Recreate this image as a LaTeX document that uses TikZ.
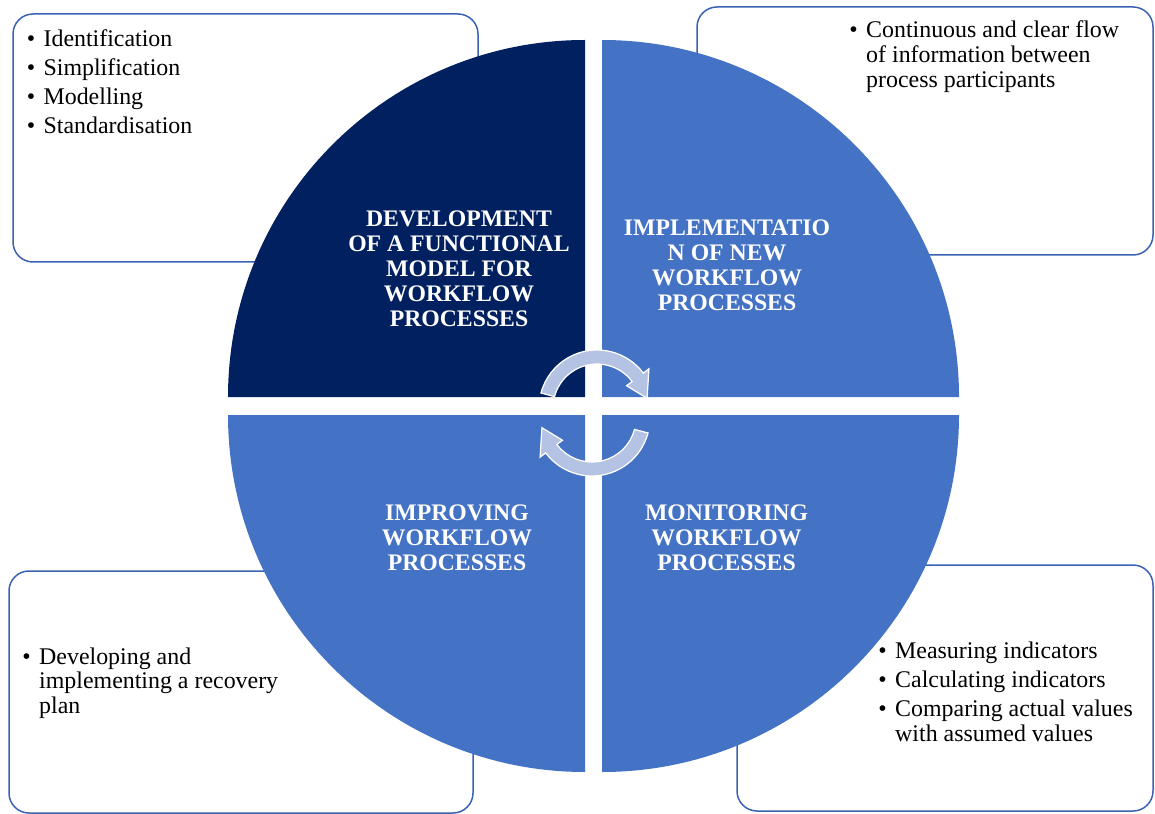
\documentclass[tikz,border=0pt]{standalone}
\usepackage{fontspec}
\setmainfont{Liberation Serif}
\definecolor{navy}{RGB}{0,32,96}
\definecolor{midblue}{RGB}{68,114,196}
\definecolor{edgeblue}{RGB}{58,98,178}
\definecolor{arrowblue}{RGB}{180,195,227}
\newcommand\bul{\makebox[9.6pt][l]{\textbullet}}
\newcommand\ind{\hspace*{9.6pt}}
\tikzset{
  box/.style={draw=edgeblue, line width=0.3mm, rounded corners=4mm},
  title/.style={text=white, align=center, inner sep=0, font=\fontsize{13.5}{14.2}\selectfont\bfseries},
  points/.style={anchor=base west, inner sep=0, font=\fontsize{13.6}{14.2}\selectfont},
  turn/.style={fill=arrowblue, draw=white, line width=0.25mm}
}

\begin{document}
\begin{tikzpicture}[x=0.2mm, y=0.2mm]
\useasboundingbox (0,0) rectangle (1155,-814);

\draw[box] (13,-14) rectangle (478,-262);
\draw[box] (697,-7) rectangle (1153,-255);
\draw[box] (9,-571) rectangle (473,-813);
\draw[box] (737,-565) rectangle (1153,-811);

\coordinate (O) at (593.5,-406);
\fill[navy] ([shift={(-8.5,9)}]O) -- ++(-357,0) arc[start angle=180, end angle=90, radius=357] -- cycle;
\fill[midblue] ([shift={(8.5,9)}]O) -- ++(0,357) arc[start angle=90, end angle=0, radius=357] -- cycle;
\fill[midblue] ([shift={(8.5,-9)}]O) -- ++(357,0) arc[start angle=0, end angle=-90, radius=357] -- cycle;
\fill[midblue] ([shift={(-8.5,-9)}]O) -- ++(0,-357) arc[start angle=-90, end angle=-180, radius=357] -- cycle;

\coordinate (t) at (597,-408);
\coordinate (b) at (592,-418);
\filldraw[turn] ([shift={(165:58)}]t) arc[start angle=165, end angle=37, radius=58]
  -- ([shift={(37:65)}]t) -- ([shift={(11:51)}]t) -- ([shift={(37:37)}]t)
  -- ([shift={(37:44)}]t) arc[start angle=37, end angle=165, radius=44] -- cycle;
\filldraw[turn] ([shift={(-15:58)}]b) arc[start angle=-15, end angle=-143, radius=58]
  -- ([shift={(-143:65)}]b) -- ([shift={(-169:51)}]b) -- ([shift={(-143:37)}]b)
  -- ([shift={(-143:44)}]b) arc[start angle=-143, end angle=-15, radius=44] -- cycle;

\node[title] (develop) at (459,-268.7) {DEVELOPMENT\\OF A FUNCTIONAL\\MODEL FOR\\WORKFLOW\\PROCESSES};
\node[title] (implement) at (727,-265.6) {IMPLEMENTATIO\\N OF NEW\\WORKFLOW\\PROCESSES};
\node[title] (improve) at (457,-538) {IMPROVING\\WORKFLOW\\PROCESSES};
\node[title] (monitor) at (726.5,-538) {MONITORING\\WORKFLOW\\PROCESSES};

\node[points] (steps) at (26.4,-47) {\begin{tabular}[t]{@{}l@{}}
  \bul Identification\\[2.3pt]
  \bul Simplification\\[2.3pt]
  \bul Modelling\\[2.3pt]
  \bul Standardisation
\end{tabular}};
\node[points] (flow) at (849,-38) {\begin{tabular}[t]{@{}l@{}}
  \bul Continuous and clear flow\\
  \ind of information between\\
  \ind process participants
\end{tabular}};
\node[points] (recovery) at (22,-664) {\begin{tabular}[t]{@{}l@{}}
  \bul Developing and\\
  \ind implementing a recovery\\
  \ind plan
\end{tabular}};
\node[points] (measure) at (878,-658) {\begin{tabular}[t]{@{}l@{}}
  \bul Measuring indicators\\[2.5pt]
  \bul Calculating indicators\\[2.5pt]
  \bul Comparing actual values\\
  \ind with assumed values
\end{tabular}};
\end{tikzpicture}
\end{document}
